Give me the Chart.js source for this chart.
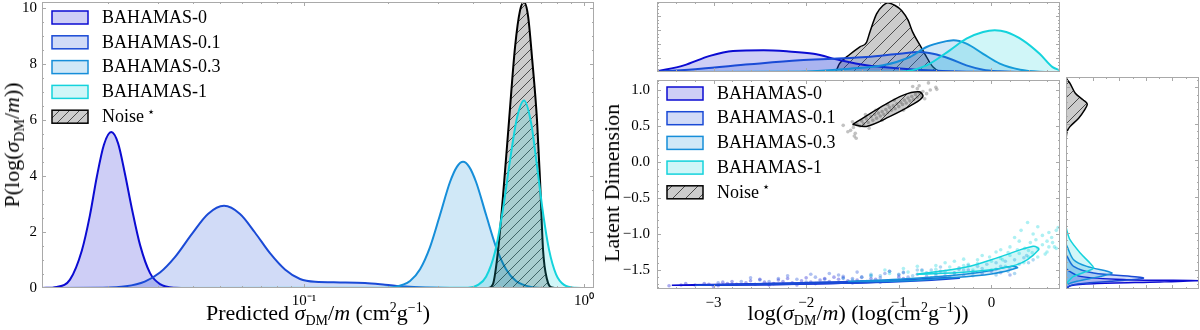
<!DOCTYPE html>
<html>
<head>
<meta charset="utf-8">
<script src="https://cdn.jsdelivr.net/npm/chart.js"></script>
<style>
  body { margin: 0; background: #fff; }
  #wrap { position: relative; width: 1200px; height: 330px; overflow: hidden; font-family: "Liberation Serif", serif; }
  canvas { position: absolute; }
  .lab { position: absolute; font-size: 22px; white-space: nowrap; color: #000; transform: translate(-50%, -50%); }
  .rot { transform: translate(-50%, -50%) rotate(-90deg); }
  .lab sub, .lab sup { font-size: 14px; line-height: 0; }
</style>
</head>
<body>
<div id="wrap">
  <canvas id="left" width="600" height="330" style="left:0;top:0"></canvas>
  <canvas id="top" width="470" height="76" style="left:600px;top:0"></canvas>
  <canvas id="main" width="470" height="254" style="left:600px;top:76px"></canvas>
  <canvas id="side" width="138" height="254" style="left:1062px;top:76px"></canvas>
  <div class="lab rot" style="left:12px;top:145px">P(log(<i>σ</i><sub>DM</sub>/<i>m</i>))</div>
  <div class="lab" style="left:318px;top:313px">Predicted <i>σ</i><sub>DM</sub>/<i>m</i> (cm<sup>2</sup>g<sup>−1</sup>)</div>
  <div class="lab rot" style="left:612px;top:183px">Latent Dimension</div>
  <div class="lab" style="left:858px;top:313px">log(<i>σ</i><sub>DM</sub>/<i>m</i>) (log(cm<sup>2</sup>g<sup>−1</sup>))</div>
</div>
<script>
// series names + colours
const seriesNames = ['BAHAMAS-0', 'BAHAMAS-0.1', 'BAHAMAS-0.3', 'BAHAMAS-1'];
const lineColors = ['#0b0bd2', '#1a4ad6', '#168ed9', '#14d3dc'];
const fillColors = ['rgba(11,11,210,0.2)', 'rgba(26,74,214,0.2)', 'rgba(22,142,217,0.2)', 'rgba(20,211,220,0.2)'];

// left panel: predicted sigma/m (cm^2/g) and density
const sigma0 = [0.0116, 0.0131, 0.0146, 0.0161, 0.0172, 0.0182, 0.0193, 0.0205, 0.0217, 0.0229, 0.0243, 0.0260, 0.0282, 0.0306, 0.0346, 0.0392, 1.085];
const dens0 = [0, 0.04, 0.30, 1.34, 2.59, 3.96, 5.11, 5.56, 5.15, 4.11, 2.82, 1.52, 0.53, 0.14, 0.01, 0, 0];
const sigma1 = [0.0116, 0.0187, 0.0231, 0.0270, 0.0306, 0.0346, 0.0398, 0.0454, 0.0518, 0.0591, 0.0668, 0.0756, 0.0855, 0.0968, 0.1095, 0.1345, 0.1651, 0.1946, 0.2295, 0.2704, 0.3321, 1.085];
const dens1 = [0, 0.01, 0.06, 0.23, 0.55, 1.10, 1.93, 2.64, 2.93, 2.64, 1.98, 1.24, 0.66, 0.32, 0.22, 0.20, 0.18, 0.12, 0.05, 0.015, 0, 0];
const sigma3 = [0.0116, 0.1853, 0.2113, 0.2391, 0.2596, 0.2818, 0.3060, 0.3321, 0.3519, 0.3697, 0.3884, 0.4115, 0.4467, 0.4850, 0.5266, 0.5716, 0.6467, 0.7378, 1.085];
const dens3 = [0, 0.003, 0.04, 0.25, 0.67, 1.46, 2.61, 3.78, 4.33, 4.5, 4.33, 3.78, 2.61, 1.46, 0.67, 0.25, 0.04, 0.003, 0];
const sigma10 = [0.0116, 0.385, 0.4183, 0.4467, 0.4810, 0.5137, 0.5441, 0.5764, 0.6105, 0.6467, 0.6792, 0.7139, 0.7499, 0.7943, 0.8483, 0.9287, 1.085];
const dens10 = [0, 0.01, 0.11, 0.40, 1.29, 2.83, 4.56, 6.08, 6.69, 5.90, 4.35, 2.66, 1.36, 0.49, 0.11, 0.01, 0];
const sigmaN = [0.0116, 0.4541, 0.4732, 0.4931, 0.5137, 0.5397, 0.5670, 0.5907, 0.6105, 0.6310, 0.6521, 0.6792, 0.6965, 0.7139, 0.7378, 0.7687, 0.8074, 1.085];
const densN = [0, 0, 0.15, 1.34, 3.3, 5.98, 8.6, 9.9, 10.19, 9.7, 8.2, 5.98, 3.8, 1.34, 0.3, 0.02, 0, 0];

// top marginal: log(sigma/m) and density
const topX0 = [-3.61, -3.32, -3.04, -2.79, -2.46, -2.21, -1.92, -1.64, -1.35, -0.99, -0.63, -0.27, 0.74];
const topY0 = [0.01, 0.095, 0.23, 0.30, 0.31, 0.295, 0.26, 0.17, 0.095, 0.05, 0.02, 0.005, 0];
const topX1 = [-3.61, -3.14, -2.61, -2.07, -1.71, -1.35, -0.99, -0.77, -0.63, -0.45, -0.27, -0.09, 0.09, 0.30, 0.74];
const topY1 = [0.005, 0.048, 0.11, 0.167, 0.19, 0.214, 0.26, 0.286, 0.26, 0.19, 0.095, 0.033, 0.01, 0, 0];
const topX3 = [-3.61, -2.07, -1.53, -1.17, -0.88, -0.70, -0.52, -0.41, -0.27, -0.09, 0.09, 0.31, 0.52, 0.74];
const topY3 = [0, 0.005, 0.048, 0.095, 0.214, 0.357, 0.43, 0.452, 0.405, 0.26, 0.12, 0.033, 0.005, 0];
const topX10 = [-3.61, -0.99, -0.70, -0.45, -0.27, -0.09, 0.035, 0.16, 0.34, 0.52, 0.66, 0.74];
const topY10 = [0, 0.005, 0.095, 0.31, 0.476, 0.571, 0.595, 0.571, 0.452, 0.26, 0.07, 0.024];
const topXN = [-3.61, -1.69, -1.64, -1.53, -1.42, -1.35, -1.31, -1.24, -1.17, -1.12, -1.04, -0.97, -0.90, -0.85, -0.77, -0.72, -0.63, -0.52, 0.74];
const topYN = [0, 0, 0.12, 0.25, 0.36, 0.42, 0.58, 0.83, 0.95, 0.99, 0.95, 0.88, 0.74, 0.57, 0.38, 0.26, 0.07, 0, 0];

// right marginal: latent value and density
const sideY0 = [-1.47, -1.50, -1.592, -1.637, -1.651, -1.669, -1.692, -1.719, -1.764];
const sideX0 = [0, 0.008, 0.107, 0.457, 1.0, 0.707, 0.207, 0.032, 0];
const sideY1 = [-1.29, -1.318, -1.455, -1.545, -1.614, -1.66, -1.705, -1.751, -1.76];
const sideX1 = [0, 0.008, 0.057, 0.207, 0.582, 0.332, 0.057, 0.002, 0];
const sideY3 = [-1.15, -1.181, -1.363, -1.455, -1.545, -1.592, -1.66, -1.705, -1.73];
const sideX3 = [0, 0.008, 0.057, 0.157, 0.345, 0.257, 0.082, 0.008, 0];
const sideY10 = [-0.90, -0.953, -1.09, -1.272, -1.409, -1.477, -1.523, -1.592, -1.682, -1.72];
const sideX10 = [0, 0.005, 0.03, 0.107, 0.18, 0.207, 0.157, 0.057, 0.008, 0];
const sideYN = [1.14, 1.10, 1.054, 0.917, 0.825, 0.77, 0.689, 0.575, 0.46, 0.392, 0.278];
const sideXN = [0, 0.01, 0.03, 0.07, 0.13, 0.16, 0.14, 0.095, 0.03, 0.008, 0];

// main panel: contour outlines
const cont0X = [-3.45, -3.0, -2.4, -1.8, -1.25, -1.18, -1.8, -2.4, -3.0, -3.45];
const cont0Y = [-1.712, -1.703, -1.690, -1.677, -1.662, -1.668, -1.693, -1.705, -1.714, -1.712];
const cont1X = [-3.2, -2.5, -1.8, -1.0, -0.45, -0.35, -1.0, -1.8, -2.5, -3.2];
const cont1Y = [-1.712, -1.692, -1.668, -1.640, -1.605, -1.615, -1.663, -1.690, -1.706, -1.712];
const cont3X = [-1.55, -1.0, -0.5, -0.1, 0.22, 0.28, 0.0, -0.5, -1.0, -1.55];
const cont3Y = [-1.66, -1.63, -1.585, -1.53, -1.45, -1.47, -1.555, -1.615, -1.655, -1.66];
const cont10X = [-0.81, -0.27, 0.09, 0.45, 0.51, 0.27, -0.27, -0.81];
const cont10Y = [-1.56, -1.46, -1.32, -1.17, -1.22, -1.43, -1.53, -1.56];
const contNX = [-1.50, -1.40, -1.20, -0.95, -0.78, -0.74, -0.85, -1.10, -1.35, -1.50];
const contNY = [0.52, 0.60, 0.76, 0.93, 0.975, 0.91, 0.80, 0.63, 0.495, 0.52];

// main panel: sample points [log sigma, latent]
const pts0 = [[-3.48,-1.72],[-3.35,-1.71],[-3.2,-1.71],[-3.05,-1.70],[-2.95,-1.72],[-2.85,-1.69],[-2.75,-1.70],[-2.65,-1.68],[-2.55,-1.70],[-2.45,-1.67],[-2.35,-1.69],[-2.25,-1.66],[-2.15,-1.68],[-2.05,-1.65],[-1.95,-1.67],[-1.85,-1.64],[-1.75,-1.66],[-1.65,-1.63],[-1.55,-1.65],[-1.45,-1.64],[-1.35,-1.66],[-1.25,-1.63],[-1.1,-1.65],[-0.95,-1.62],[-2.9,-1.67],[-2.6,-1.65],[-2.3,-1.64],[-2.0,-1.61],[-1.7,-1.60],[-1.4,-1.60],[-3.1,-1.69],[-2.4,-1.71],[-1.9,-1.69],[-1.5,-1.68],[-1.2,-1.67],[-3.3,-1.69],[-2.8,-1.66],[-2.5,-1.63],[-2.2,-1.62],[-1.8,-1.62],[-1.6,-1.61],[-1.3,-1.62],[-1.0,-1.60],[-3.0,-1.73],[-2.1,-1.71]];
const pts1 = [[-2.95,-1.68],[-2.7,-1.66],[-2.5,-1.64],[-2.3,-1.62],[-2.1,-1.63],[-1.9,-1.60],[-1.8,-1.63],[-1.6,-1.59],[-1.5,-1.62],[-1.3,-1.58],[-1.2,-1.61],[-1.0,-1.57],[-0.9,-1.60],[-0.8,-1.56],[-0.7,-1.59],[-0.6,-1.55],[-0.5,-1.58],[-0.4,-1.54],[-0.3,-1.57],[-0.2,-1.53],[-0.1,-1.55],[0.0,-1.52],[0.1,-1.54],[-1.75,-1.55],[-1.45,-1.53],[-1.1,-1.52],[-0.75,-1.50],[-2.2,-1.58],[-2.6,-1.61],[-0.35,-1.49],[-2.8,-1.70],[-2.4,-1.66],[-1.95,-1.56],[-1.65,-1.57],[-1.15,-1.55],[-0.95,-1.54],[-0.55,-1.52],[-0.25,-1.50],[0.05,-1.49],[0.2,-1.57],[-1.4,-1.66],[-2.0,-1.67]];
const pts3 = [[-1.6,-1.62],[-1.4,-1.60],[-1.2,-1.58],[-1.0,-1.56],[-0.85,-1.58],[-0.7,-1.54],[-0.6,-1.57],[-0.5,-1.52],[-0.4,-1.55],[-0.3,-1.50],[-0.2,-1.53],[-0.1,-1.48],[0.0,-1.50],[0.1,-1.45],[0.2,-1.48],[0.3,-1.42],[0.4,-1.40],[-0.25,-1.44],[-0.05,-1.42],[0.15,-1.38],[0.35,-1.33],[-0.55,-1.46],[-0.8,-1.50],[-1.1,-1.52],[0.25,-1.55],[0.05,-1.57],[-0.45,-1.60],[-1.5,-1.64],[-1.3,-1.56],[-0.95,-1.53],[-0.65,-1.50],[-0.35,-1.47],[-0.15,-1.45],[0.05,-1.40],[0.25,-1.36],[0.38,-1.30],[0.45,-1.36],[0.18,-1.52],[-0.2,-1.58],[-0.65,-1.61]];
const pts10 = [[-1.3,-1.58],[-1.1,-1.55],[-0.9,-1.53],[-0.75,-1.51],[-0.6,-1.49],[-0.45,-1.46],[-0.3,-1.44],[-0.15,-1.41],[0.0,-1.38],[0.1,-1.34],[0.2,-1.30],[0.3,-1.27],[0.4,-1.23],[0.5,-1.20],[0.55,-1.15],[0.6,-1.10],[0.65,-1.05],[0.7,-0.95],[0.72,-0.91],[0.39,-0.84],[0.45,-1.00],[0.3,-1.10],[0.2,-1.18],[0.05,-1.25],[-0.1,-1.30],[-0.3,-1.35],[-0.5,-1.40],[-0.8,-1.45],[0.35,-1.40],[0.5,-1.32],[0.15,-1.45],[-0.2,-1.50],[0.6,-1.25],[0.25,-1.05],[0.68,-1.18],[0.42,-1.12],[0.48,-1.08],[0.55,-1.02],[0.62,-0.98],[0.66,-1.12],[0.7,-1.2],[0.58,-1.28],[0.44,-1.26],[0.36,-1.2],[0.28,-1.22],[0.18,-1.26],[0.1,-1.22],[-0.02,-1.32],[-0.15,-1.36],[-0.25,-1.42],[-0.4,-1.38],[-0.6,-1.44],[-0.95,-1.48],[-1.15,-1.5],[0.32,-0.95],[0.5,-0.9],[0.62,-1.18],[0.4,-1.32],[0.12,-1.36]];
const ptsN = [[-1.52,0.44],[-1.49,0.48],[-1.47,0.40],[-1.45,0.52],[-1.50,0.56],[-1.42,0.50],[-1.40,0.57],[-1.38,0.53],[-1.35,0.60],[-1.33,0.55],[-1.30,0.63],[-1.28,0.58],[-1.26,0.66],[-1.24,0.61],[-1.22,0.68],[-1.20,0.64],[-1.18,0.70],[-1.16,0.66],[-1.14,0.73],[-1.12,0.69],[-1.10,0.76],[-1.08,0.72],[-1.06,0.78],[-1.04,0.74],[-1.02,0.81],[-1.00,0.77],[-0.98,0.83],[-0.96,0.80],[-0.94,0.86],[-0.92,0.82],[-0.90,0.89],[-0.88,0.85],[-0.86,0.91],[-0.84,0.87],[-0.82,0.94],[-0.80,0.90],[-0.78,0.96],[-0.76,0.92],[-0.74,0.98],[-0.70,0.95],[-0.66,1.00],[-0.60,1.04],[-0.85,1.05],[-0.80,1.02],[-1.55,0.42],[-1.48,0.36],[-1.46,0.33],[-1.32,0.47],[-1.18,0.58],[-1.05,0.86],[-0.95,0.72],[-1.25,0.72],[-1.36,0.66],[-0.72,0.88],[-0.78,1.06],[-1.12,0.80],[-1.60,0.51],[-0.59,1.01],[-0.68,1.10]];

// tick labels
const leftXTicks = [0.1, 1];
const leftXLabels = ['10⁻¹', '10⁰'];
const leftYTicks = [0, 2, 4, 6, 8, 10];
const mainXTicks = [-3, -2, -1, 0];
const mainYTicks = [-1.5, -1.0, -0.5, 0.0, 0.5, 1.0];

// ---------- helpers ----------
const xy = (xs, ys) => xs.map((x, i) => ({ x: x, y: ys[i] }));
const pairs = arr => arr.map(p => ({ x: p[0], y: p[1] }));
const minus = v => (v < 0 ? '\u2212' : '') + Math.abs(v);
const serif = '"Liberation Serif", serif';

function hatch(bg, gap) {
  const c = document.createElement('canvas');
  c.width = c.height = gap;
  const g = c.getContext('2d');
  g.fillStyle = bg;
  g.fillRect(0, 0, gap, gap);
  g.strokeStyle = 'rgba(0,0,0,0.8)';
  g.lineWidth = 0.8;
  g.beginPath();
  g.moveTo(0, gap); g.lineTo(gap, 0);
  g.moveTo(-1, 1); g.lineTo(1, -1);
  g.moveTo(gap - 1, gap + 1); g.lineTo(gap + 1, gap - 1);
  g.stroke();
  return g.createPattern(c, 'repeat');
}
const noiseFill = hatch('rgba(0,0,0,0.2)', 10);
const noiseFillBig = hatch('rgba(0,0,0,0.2)', 13);

// minor tick positions (axis decoration only)
const range = (a, b, s) => { const r = []; for (let v = a; v <= b + 1e-9; v += s) r.push(+v.toFixed(3)); return r; };
const logMinor = [];
[0.01, 0.1].forEach(d => { for (let k = 2; k <= 9; k++) logMinor.push(d * k); });

// inward ticks + frame like the matplotlib axes
const frame = {
  id: 'frame',
  afterDatasetsDraw(chart, args, o) {
    const { ctx, chartArea: a, scales } = chart;
    ctx.save();
    ctx.strokeStyle = '#a9a9a9';
    ctx.lineWidth = 1;
    ctx.beginPath();
    const seg = (x1, y1, x2, y2) => { ctx.moveTo(x1, y1); ctx.lineTo(x2, y2); };
    const tx = (vals, len) => (vals || []).forEach(v => {
      const p = Math.round(scales.x.getPixelForValue(v)) + 0.5;
      if (p < a.left + 1 || p > a.right - 1) return;
      seg(p, a.bottom, p, a.bottom - len); seg(p, a.top, p, a.top + len);
    });
    const ty = (vals, len) => (vals || []).forEach(v => {
      const p = Math.round(scales.y.getPixelForValue(v)) + 0.5;
      if (p < a.top + 1 || p > a.bottom - 1) return;
      seg(a.left, p, a.left + len, p); seg(a.right, p, a.right - len, p);
    });
    tx(o.xMajor, 4); tx(o.xMinor, 2); ty(o.yMajor, 4); ty(o.yMinor, 2);
    ctx.stroke();
    ctx.strokeRect(Math.round(a.left) + 0.5, Math.round(a.top) + 0.5, Math.round(a.width) - 1, Math.round(a.height) - 1);
    ctx.restore();
  }
};

// legend with filled boxes, drawn inside the axes
const boxLegend = {
  id: 'boxLegend',
  afterDraw(chart, args, o) {
    if (!o.items) return;
    const ctx = chart.ctx;
    ctx.save();
    o.items.forEach((it, i) => {
      const y = o.y + i * o.step;
      ctx.fillStyle = it.fill;
      ctx.fillRect(o.x, y - 6, 36, 13);
      ctx.strokeStyle = it.stroke;
      ctx.lineWidth = 1.5;
      ctx.strokeRect(o.x, y - 6, 36, 13);
      ctx.fillStyle = '#000';
      ctx.font = '18px ' + serif;
      ctx.textBaseline = 'middle';
      ctx.fillText(it.text, o.x + 50, y + 1);
      if (it.sup) {
        const w = ctx.measureText(it.text).width;
        ctx.font = '13px "DejaVu Sans"';
        ctx.fillText(it.sup, o.x + 53 + w, y - 4);
      }
    });
    ctx.restore();
  }
};
Chart.register(frame, boxLegend);

const legendItems = seriesNames.map((n, i) => ({ text: n, fill: fillColors[i], stroke: lineColors[i] }))
  .concat([{ text: 'Noise', sup: '\u22C6', fill: noiseFill, stroke: '#000' }]);

const common = {
  responsive: false,
  animation: false,
  events: [],
  elements: { point: { radius: 0 } }
};
const tickFont = { family: serif, size: 15 };
// pin the plot area: no extra room for overhanging tick labels
const fixY = w => s => { s.width = w; s.paddingTop = 0; s.paddingBottom = 0; };
const fixX = h => s => { s.height = h; s.paddingLeft = 0; s.paddingRight = 0; };

function curve(data, i, order, fill, tension) {
  return {
    data: data,
    borderColor: i < 4 ? lineColors[i] : '#000',
    backgroundColor: i < 4 ? fillColors[i] : noiseFill,
    borderWidth: 2,
    fill: fill,
    tension: tension,
    cubicInterpolationMode: tension ? 'default' : 'monotone',
    order: order
  };
}

// ---------- left panel ----------
new Chart(document.getElementById('left'), {
  type: 'line',
  data: {
    datasets: [
      curve(xy(sigma10, dens10), 3, 0, 'origin', 0),
      curve(xy(sigmaN, densN), 4, 1, 'origin', 0),
      curve(xy(sigma3, dens3), 2, 2, 'origin', 0),
      curve(xy(sigma1, dens1), 1, 3, 'origin', 0),
      curve(xy(sigma0, dens0), 0, 4, 'origin', 0)
    ]
  },
  options: Object.assign({}, common, {
    layout: { padding: { left: 0, right: 6, top: 2, bottom: 0 } },
    scales: {
      x: {
        type: 'logarithmic', min: 0.0116, max: 1.085,
        grid: { display: false, drawTicks: false }, border: { display: false },
        afterBuildTicks: s => { s.ticks = leftXTicks.map(v => ({ value: v })); },
        afterFit: fixX(42),
        ticks: { font: tickFont, color: '#000', padding: 4, maxRotation: 0,
          callback: (v) => leftXLabels[leftXTicks.indexOf(v)] }
      },
      y: {
        type: 'linear', min: 0, max: 10.2,
        grid: { display: false, drawTicks: false }, border: { display: false },
        afterBuildTicks: s => { s.ticks = leftYTicks.map(v => ({ value: v })); },
        afterFit: fixY(42),
        ticks: { font: tickFont, color: '#000', padding: 5 }
      }
    },
    plugins: {
      legend: { display: false }, tooltip: { enabled: false },
      frame: { xMajor: leftXTicks, xMinor: logMinor, yMajor: leftYTicks, yMinor: range(0.5, 9.5, 0.5).filter(v => v % 2) },
      boxLegend: { x: 52, y: 17, step: 24.8, items: legendItems }
    }
  })
});

// ---------- top marginal ----------
new Chart(document.getElementById('top'), {
  type: 'line',
  data: {
    datasets: [
      curve(xy(topX10, topY10), 3, 0, 'origin', 0),
      curve(xy(topX3, topY3), 2, 1, 'origin', 0),
      curve(xy(topX1, topY1), 1, 2, 'origin', 0),
      curve(xy(topX0, topY0), 0, 3, 'origin', 0),
      Object.assign(curve(xy(topXN, topYN), 4, 4, 'origin', 0), { backgroundColor: noiseFillBig, borderWidth: 1.5 })
    ]
  },
  options: Object.assign({}, common, {
    layout: { padding: { left: 57, right: 10, top: 2, bottom: 4 } },
    scales: {
      x: { type: 'linear', min: -3.61, max: 0.74, display: false },
      y: { type: 'linear', min: 0, max: 1.0, display: false }
    },
    plugins: {
      legend: { display: false }, tooltip: { enabled: false },
      frame: { xMajor: mainXTicks, xMinor: range(-3.6, 0.6, 0.2), yMajor: [0.2, 0.4, 0.6, 0.8], yMinor: range(0.05, 0.95, 0.05) }
    }
  })
});

// ---------- main scatter + contours ----------
function cloud(points, color, order) {
  return { data: pairs(points), showLine: false, pointRadius: 1.8, pointBorderWidth: 0,
    pointBackgroundColor: color, borderColor: color, order: order };
}
function loop(xs, ys, i, order) {
  return { data: xy(xs, ys), borderColor: i < 4 ? lineColors[i] : '#000', backgroundColor: i < 4 ? fillColors[i] : noiseFillBig,
    borderWidth: 1.5, fill: 'shape', tension: 0.35, order: order };
}
new Chart(document.getElementById('main'), {
  type: 'line',
  data: {
    datasets: [
      loop(contNX, contNY, 4, 0),
      loop(cont10X, cont10Y, 3, 1),
      loop(cont3X, cont3Y, 2, 2),
      loop(cont1X, cont1Y, 1, 3),
      loop(cont0X, cont0Y, 0, 4),
      cloud(ptsN, 'rgba(120,120,120,0.45)', 5),
      cloud(pts10, 'rgba(20,211,220,0.35)', 6),
      cloud(pts3, 'rgba(22,142,217,0.35)', 7),
      cloud(pts1, 'rgba(26,74,214,0.35)', 8),
      cloud(pts0, 'rgba(11,11,210,0.35)', 9)
    ]
  },
  options: Object.assign({}, common, {
    layout: { padding: { left: 0, right: 10, top: 1, bottom: 0 } },
    scales: {
      x: {
        type: 'linear', min: -3.61, max: 0.74,
        grid: { display: false, drawTicks: false }, border: { display: false },
        afterBuildTicks: s => { s.ticks = mainXTicks.map(v => ({ value: v })); },
        afterFit: fixX(41),
        ticks: { font: tickFont, color: '#000', padding: 5, maxRotation: 0, callback: v => minus(v) }
      },
      y: {
        type: 'linear', min: -1.765, max: 1.14,
        grid: { display: false, drawTicks: false }, border: { display: false },
        afterBuildTicks: s => { s.ticks = mainYTicks.map(v => ({ value: v })); },
        afterFit: fixY(57),
        ticks: { font: tickFont, color: '#000', padding: 7, callback: v => (v < 0 ? '\u2212' : '') + Math.abs(v).toFixed(1) }
      }
    },
    plugins: {
      legend: { display: false }, tooltip: { enabled: false },
      frame: { xMajor: mainXTicks, xMinor: range(-3.6, 0.6, 0.2), yMajor: mainYTicks, yMinor: range(-1.7, 1.1, 0.1) },
      boxLegend: { x: 67, y: 17, step: 24.7, items: legendItems.map(it => it.sup ? Object.assign({}, it, { fill: noiseFillBig }) : it) }
    }
  })
});

// ---------- right marginal ----------
new Chart(document.getElementById('side'), {
  type: 'line',
  data: {
    datasets: [
      Object.assign(curve(xy(sideX10, sideY10), 3, 0, 'shape', 0.3), { borderWidth: 1.5 }),
      Object.assign(curve(xy(sideX3, sideY3), 2, 1, 'shape', 0.3), { borderWidth: 1.5 }),
      Object.assign(curve(xy(sideX1, sideY1), 1, 2, 'shape', 0.3), { borderWidth: 1.5 }),
      Object.assign(curve(xy(sideX0, sideY0), 0, 3, 'shape', 0.3), { borderWidth: 1.5 }),
      Object.assign(curve(xy(sideXN, sideYN), 4, 4, 'shape', 0.3), { backgroundColor: noiseFillBig, borderWidth: 1.5 })
    ]
  },
  options: Object.assign({}, common, {
    layout: { padding: { left: 4, right: 1, top: 1, bottom: 41 } },
    scales: {
      x: { type: 'linear', min: 0, max: 1.0, display: false },
      y: { type: 'linear', min: -1.765, max: 1.14, display: false }
    },
    plugins: {
      legend: { display: false }, tooltip: { enabled: false },
      frame: { xMajor: [0.2, 0.4, 0.6, 0.8], xMinor: range(0.1, 0.9, 0.1), yMajor: mainYTicks, yMinor: range(-1.7, 1.1, 0.1) }
    }
  })
});
</script>
</body>
</html>
